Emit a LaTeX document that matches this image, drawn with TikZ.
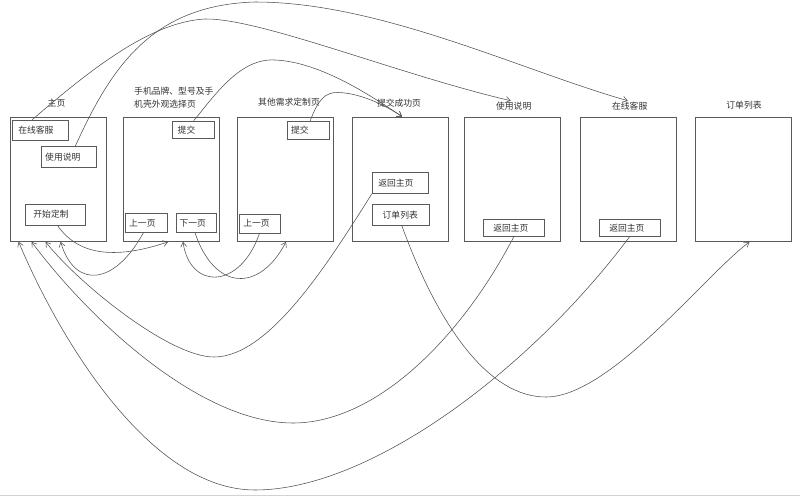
\documentclass[tikz,border=0pt]{standalone}
\usepackage{fontspec}
\newfontfamily\cjk{Noto Sans CJK SC}
\usetikzlibrary{arrows.meta}
\definecolor{boxgray}{HTML}{5A5A5A}
\definecolor{linegray}{HTML}{505050}
\definecolor{txtgray}{HTML}{333333}
\begin{document}
\begin{tikzpicture}[x=1pt,y=-1pt,
  font=\cjk\fontsize{8.8}{10}\selectfont,
  page/.style={draw=boxgray, line width=0.8pt, minimum width=96pt, minimum height=124.5pt, inner sep=0pt},
  btn/.style={draw=boxgray, line width=0.7pt, inner ysep=0pt, align=left, text=txtgray},
  lbl/.style={inner sep=1pt, text=txtgray},
  link/.style={draw=linegray, line width=0.55pt, -{Straight Barb[length=4.5pt,width=6pt]}}]
\useasboundingbox[fill=white] (0,0) rectangle (800,498);
\draw[gray!35, line width=1.5pt] (0,495.5) -- (800,495.5);

% pages
\node[page] (p1) at (58,179.25) {};
\node[page] (p2) at (171,179.25) {};
\node[page] (p3) at (285,179.25) {};
\node[page] (p4) at (400,179.25) {};
\node[page] (p5) at (512.5,179.25) {};
\node[page] (p6) at (628.5,179.25) {};
\node[page] (p7) at (743.5,179.25) {};

% page titles
\node[lbl] (l1) at (56.5,102.7) {主页};
\node[lbl, align=left, anchor=west, font=\cjk\fontsize{8.8}{13.6}\selectfont] (l2) at (133,97.5) {手机品牌、型号及手\\机壳外观选择页};
\node[lbl] (l3) at (289,102.3) {其他需求定制页};
\node[lbl] (l4) at (399,102.7) {提交成功页};
\node[lbl] (l5) at (513.7,106) {使用说明};
\node[lbl] (l6) at (629.7,106) {在线客服};
\node[lbl] (l7) at (744,105.3) {订单列表};

% buttons
\node[btn, text width=44pt, inner xsep=6pt, minimum height=20pt] (b1a) at (40.3,130) {在线客服};
\node[btn, text width=48pt, inner xsep=3.5pt, minimum height=20.6pt] (b1b) at (69.2,157) {使用说明};
\node[btn, text width=44pt, inner xsep=7.6pt, minimum height=21pt] (b1c) at (55.4,214.5) {开始定制};
\node[btn, text width=32pt, inner xsep=5pt, minimum height=17.3pt] (b2a) at (193.7,129.7) {提交};
\node[btn, text width=34.3pt, inner xsep=3.5pt, minimum height=19pt] (b2b) at (146.3,223) {上一页};
\node[btn, text width=33.1pt, inner xsep=3.6pt, minimum height=19pt] (b2c) at (196,223) {下一页};
\node[btn, text width=33.7pt, inner xsep=4.3pt, minimum height=17.3pt] (b3a) at (308,130.3) {提交};
\node[btn, text width=32.4pt, inner xsep=4.3pt, minimum height=19pt] (b3b) at (259.5,223.5) {上一页};
\node[btn, text width=44pt, inner xsep=6pt, minimum height=21pt] (b4a) at (400.3,182.8) {返回主页};
\node[btn, text width=36.3pt, inner xsep=10pt, minimum height=21pt] (b4b) at (400.8,214.8) {订单列表};
\node[btn, text width=41.4pt, inner xsep=9.6pt, minimum height=16.7pt] (b5) at (514,227.7) {返回主页};
\node[btn, text width=41pt, inner xsep=10pt, minimum height=16.7pt] (b6) at (629.8,227.7) {返回主页};

% connectors
\draw[link] ([xshift=-8pt]b1a.north) .. controls (90,70) and (150,22) .. (205,19)
  .. controls (260,18) and (400,75) .. ([xshift=-3pt]l5.north);
\draw[link] ([xshift=6pt]b1b.north) .. controls (110,70) and (150,5) .. (255,2)
  .. controls (380,2) and (520,70) .. ([xshift=-2pt]l6.north);
\draw[link] (b2a.north) .. controls (215,95) and (240,58) .. (275,60)
  .. controls (320,62) and (370,95) .. ([xshift=2pt]p4.north);
\draw[link] ([xshift=2pt]b3a.north) .. controls (318,100) and (325,92) .. (338,92.5)
  .. controls (360,93) and (385,105) .. ([xshift=2pt]p4.north);
\draw[link] ([xshift=2pt]b1c.south) .. controls (80,258) and (120,258) .. ([xshift=-3pt]p2.south);
\draw[link] ([xshift=-3pt]b2b.south) .. controls (115,285) and (75,290) .. ([xshift=51pt]p1.south west);
\draw[link] ([xshift=-1pt]b2c.south) .. controls (215,292) and (260,292) .. ([xshift=1pt]p3.south);
\draw[link] (b3b.south) .. controls (240,290) and (190,290) .. ([xshift=12pt]p2.south);
\draw[link] (b4a.south west) .. controls (330,260) and (270,357) .. (214,357)
  .. controls (170,357) and (80,285) .. ([xshift=36pt]p1.south west);
\draw[link] (b5.south) .. controls (460,340) and (375,423) .. (293,423)
  .. controls (200,423) and (90,320) .. ([xshift=22pt]p1.south west);
\draw[link] (b6.south) .. controls (530,370) and (370,490) .. (255,490)
  .. controls (150,490) and (60,340) .. ([xshift=9pt]p1.south west);
\draw[link] ([xshift=1pt]b4b.south) .. controls (440,330) and (490,397) .. (546,397)
  .. controls (610,397) and (705,275) .. ([xshift=6pt]p7.south);
\end{tikzpicture}
\end{document}
